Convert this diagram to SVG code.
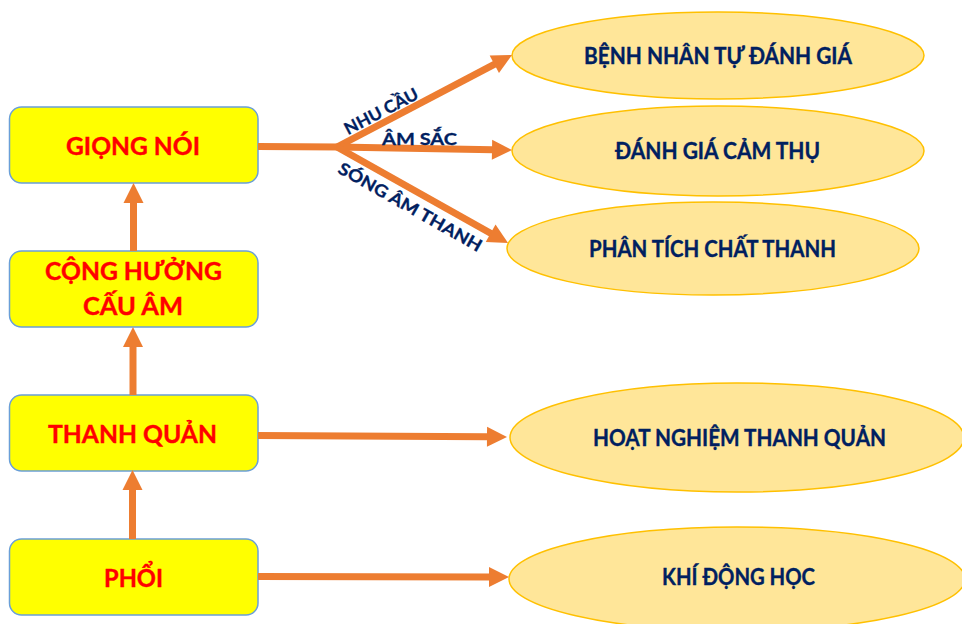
<svg xmlns="http://www.w3.org/2000/svg" width="962" height="624" viewBox="0 0 962 624">
  <style>
    .box { fill: #FFFF00; stroke: #6A9FD8; stroke-width: 1.5; }
    .oval { fill: #FFE699; stroke: #FFC000; stroke-width: 1.5; }
    .red { font-family: "Lato", "Carlito", "Liberation Sans", sans-serif; font-weight: bold; font-size: 25.5px; fill: #FF0000; stroke: #FF0000; stroke-width: 0.4; text-anchor: middle; }
    .navy { font-family: "Lato", "Carlito", "Liberation Sans", sans-serif; font-weight: bold; font-size: 22px; fill: #002060; stroke: #002060; stroke-width: 0.35; text-anchor: middle; }
    .lbl { font-family: "Lato", "Carlito", "Liberation Sans", sans-serif; font-weight: bold; font-size: 17px; fill: #002060; stroke: #002060; stroke-width: 0.3; text-anchor: middle; }
    .wire { fill: none; stroke: #ED7D31; stroke-width: 7; }
  </style>
  <defs>
    <marker id="head" viewBox="0 -10 20 20" refX="1" refY="0" markerWidth="20" markerHeight="20" markerUnits="userSpaceOnUse" orient="auto" overflow="visible">
      <path d="M0,-10 L20,0 L0,10 z" fill="#ED7D31"/>
    </marker>
  </defs>

  <rect width="962" height="624" fill="#FFFFFF"/>

  <!-- left column: stacked boxes -->
  <g id="giong-noi">
    <rect class="box" x="9.5" y="107" width="248.5" height="76" rx="12"/>
    <text class="red" x="133" y="155" textLength="134" lengthAdjust="spacingAndGlyphs">GIỌNG NÓI</text>
  </g>
  <g id="cong-huong">
    <rect class="box" x="9.5" y="251" width="248.5" height="76" rx="12"/>
    <text class="red" x="133.5" y="280" textLength="177" lengthAdjust="spacingAndGlyphs">CỘNG HƯỞNG</text>
    <text class="red" x="133" y="315" textLength="100" lengthAdjust="spacingAndGlyphs">CẤU ÂM</text>
  </g>
  <g id="thanh-quan">
    <rect class="box" x="9.5" y="395" width="248.5" height="76" rx="12"/>
    <text class="red" x="132.5" y="443" textLength="169" lengthAdjust="spacingAndGlyphs">THANH QUẢN</text>
  </g>
  <g id="phoi">
    <rect class="box" x="9.5" y="539" width="248.5" height="76" rx="12"/>
    <text class="red" x="133.5" y="587" textLength="59" lengthAdjust="spacingAndGlyphs">PHỔI</text>
  </g>

  <!-- right column: assessment ovals -->
  <g id="benh-nhan">
    <ellipse class="oval" cx="718" cy="55.5" rx="206" ry="43.5"/>
    <text class="navy" x="718" y="64" textLength="268" lengthAdjust="spacingAndGlyphs">BỆNH NHÂN TỰ ĐÁNH GIÁ</text>
  </g>
  <g id="cam-thu">
    <ellipse class="oval" cx="718" cy="151" rx="206" ry="45"/>
    <text class="navy" x="717.5" y="159" textLength="205" lengthAdjust="spacingAndGlyphs">ĐÁNH GIÁ CẢM THỤ</text>
  </g>
  <g id="chat-thanh">
    <ellipse class="oval" cx="713" cy="248.5" rx="206" ry="46.5"/>
    <text class="navy" x="712.5" y="257" textLength="247" lengthAdjust="spacingAndGlyphs">PHÂN TÍCH CHẤT THANH</text>
  </g>
  <g id="hoat-nghiem">
    <ellipse class="oval" cx="737" cy="437.5" rx="227" ry="54.5"/>
    <text class="navy" x="739.5" y="446" textLength="293" lengthAdjust="spacingAndGlyphs">HOẠT NGHIỆM THANH QUẢN</text>
  </g>
  <g id="khi-dong-hoc">
    <ellipse class="oval" cx="737" cy="579" rx="228" ry="52"/>
    <text class="navy" x="738.5" y="585" textLength="153" lengthAdjust="spacingAndGlyphs">KHÍ ĐỘNG HỌC</text>
  </g>

  <!-- connectors -->
  <g id="connectors">
    <!-- upward chain -->
    <line class="wire" x1="133.5" y1="251" x2="133.5" y2="202" marker-end="url(#head)"/>
    <line class="wire" x1="133" y1="395" x2="133" y2="346" marker-end="url(#head)"/>
    <line class="wire" x1="132.5" y1="539" x2="132.5" y2="489" marker-end="url(#head)"/>

    <!-- fan out from GIỌNG NÓI -->
    <line class="wire" x1="258" y1="146.5" x2="340" y2="147"/>
    <line class="wire" x1="337" y1="147" x2="495.2" y2="63.8" marker-end="url(#head)"/>
    <line class="wire" x1="337" y1="147" x2="493" y2="149.7" marker-end="url(#head)"/>
    <line class="wire" x1="337" y1="147" x2="491.5" y2="233.7" marker-end="url(#head)"/>

    <!-- straight links to the lower ovals -->
    <line class="wire" x1="258" y1="435.5" x2="488" y2="436.8" marker-end="url(#head)"/>
    <line class="wire" x1="258" y1="576.5" x2="490" y2="577" marker-end="url(#head)"/>

    <!-- branch labels -->
    <text class="lbl" transform="translate(384,116.6) rotate(-27.6)" textLength="81" lengthAdjust="spacingAndGlyphs">NHU CẦU</text>
    <text class="lbl" x="419.5" y="144.5" textLength="75" lengthAdjust="spacingAndGlyphs">ÂM SẮC</text>
    <text class="lbl" transform="translate(407.3,212.2) rotate(29.6)" textLength="162" lengthAdjust="spacingAndGlyphs">SÓNG ÂM THANH</text>
  </g>
</svg>
